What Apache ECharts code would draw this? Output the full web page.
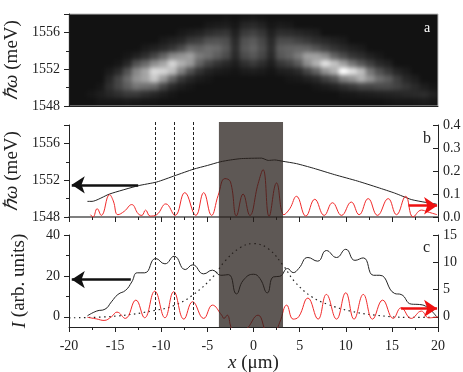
<!DOCTYPE html>
<html>
<head>
<meta charset="utf-8">
<script src="https://cdn.jsdelivr.net/npm/echarts@6/dist/echarts.min.js"></script>
<style>
  html, body { margin: 0; padding: 0; background: #fff; }
  #wrap { position: relative; width: 463px; height: 372px; overflow: hidden; }
  /* the map is blurry in the original, so it gets its own layer under the axes */
  #mapClip { position: absolute; left: 69px; top: 14px; width: 369px; height: 92px; overflow: hidden; background: #111; }
  #map { position: absolute; left: -69px; top: -14px; width: 463px; height: 372px; filter: blur(2px); }
  #main { position: absolute; left: 0; top: 0; width: 463px; height: 372px; }
</style>
</head>
<body>
<div id="wrap">
  <div id="mapClip"><div id="map"></div></div>
  <div id="main"></div>
</div>
<script>
// panel a: emission map, one list per column, top row first (brightness 0-255)
const mapColumns = [
  [18,18,18,18,18,18,18,18,18,18,18,18],
  [18,18,18,18,18,18,18,18,18,18,18,18],
  [18,18,18,18,18,18,18,18,18,18,22,18],
  [18,18,18,18,18,18,18,18,18,22,28,22],
  [18,18,18,18,18,18,18,25,35,42,35,22],
  [18,18,18,18,18,18,22,38,60,60,42,22],
  [18,18,18,18,18,22,35,70,90,80,50,24],
  [18,18,18,18,18,30,70,115,125,100,50,22],
  [18,18,18,18,25,42,90,140,140,95,42,20],
  [18,18,18,18,30,60,120,185,170,90,35,20],
  [18,18,18,25,38,85,140,180,130,60,28,18],
  [18,18,18,30,48,115,180,160,85,38,22,18],
  [18,18,24,35,65,125,150,110,50,28,18,18],
  [18,18,28,50,90,135,130,70,35,22,18,18],
  [18,18,32,55,85,105,85,45,26,18,18,18],
  [18,24,40,70,95,95,60,32,22,18,18,18],
  [18,26,45,72,90,80,45,26,18,18,18,18],
  [20,28,48,68,75,65,36,24,18,18,18,18],
  [18,22,30,38,42,38,28,20,18,18,18,18],
  [22,35,52,70,75,65,42,26,18,18,18,18],
  [24,38,58,78,85,75,50,28,18,18,18,18],
  [20,32,48,62,68,60,40,25,18,18,18,18],
  [18,22,30,38,42,38,28,20,18,18,18,18],
  [18,26,42,65,80,75,48,28,18,18,18,18],
  [18,24,40,65,85,85,58,30,22,18,18,18],
  [18,18,36,58,88,105,78,38,24,18,18,18],
  [18,18,32,50,85,135,120,60,30,18,18,18],
  [18,18,28,42,72,135,150,85,38,22,18,18],
  [18,18,18,36,58,120,190,125,55,26,18,18],
  [18,18,18,30,46,85,165,150,72,32,18,18],
  [18,18,18,26,38,65,135,225,110,42,22,18],
  [18,18,18,18,30,48,100,190,125,50,24,18],
  [18,18,18,18,26,40,75,160,150,60,26,18],
  [18,18,18,18,18,30,55,100,125,60,28,18],
  [18,18,18,18,18,24,38,70,95,65,30,18],
  [18,18,18,18,18,18,30,50,80,65,32,20],
  [18,18,18,18,18,18,18,34,55,58,34,22],
  [18,18,18,18,18,18,18,26,36,48,36,22],
  [18,18,18,18,18,18,18,18,28,38,38,24],
  [18,18,18,18,18,18,18,18,18,28,40,26],
  [18,18,18,18,18,18,18,18,18,22,32,24]
];

// panel b
const energyX = [-18,-17.5,-15.6,-12.5,-10.5,-8.5,-6.5,-5,-3.6,-2.5,-1.3,0.87,1.6,2.3,3.2,4.66,6.5,8.8,11.3,13.5,15.3,17.1,18.6,19.85];
const energyY = [1549.7,1549.7,1550.5,1551.4,1551.8,1552.5,1553.2,1553.6,1554,1554.2,1554.35,1554.4,1554.15,1554.2,1554.05,1553.8,1553.3,1552.6,1551.9,1551.2,1550.6,1549.9,1549.6,1549.4];
const ratioX = [-17.67,-17.4,-16.95,-16.5,-15.6,-15.2,-14.7,-14,-13.2,-12.5,-12.1,-11.7,-11.2,-10.5,-9.5,-8.5,-7.45,-6.25,-5.4,-4.55,-3.83,-3.1,-2.5,-1.85,-1.13,-0.4,0.5,1.04,1.69,2.5,3.3,3.93,4.66,5.67,6.64,7.66,8.56,9.54,10.6,11.45,12.43,13.44,14.6,15.5,16.5,17.3,18.2,18.9,19.9];
const ratioY = [0.01,0,0.036,0.007,0.097,0.07,0.01,0.025,0.054,0.014,0.007,0.03,0.004,0.01,0.057,0.007,0.106,0.007,0.106,0.007,0.094,0.167,0.153,0.005,0.1,0.007,0.145,0.206,0.003,0.148,0.01,0.036,0.09,0.004,0.077,0.007,0.062,0.007,0.065,0.01,0.08,0.007,0.08,0.01,0.09,0,0.03,0.022,0.01];

// panel c
const intensityX = [-18,-17,-16.1,-15.4,-14.7,-13.85,-13.2,-12.6,-11.8,-10.6,-9.6,-8.6,-7.4,-6.6,-5.4,-4.45,-3.55,-2.7,-1.85,-1.1,0,0.7,1.5,2.15,2.85,3.7,4.3,4.9,5.9,6.95,7.9,9,10,11,11.9,13,13.7,15.3,16,17.1,18,18.9,19.85];
const intensityY = [0.5,2.8,3.7,7.3,10.9,13,17,21.5,21.5,28.5,25.9,29.6,23.1,25.4,21,22.8,20.3,20.6,11.2,17.9,20.8,18.7,11.7,19.5,19.8,23.6,21.6,23.6,29,27.2,32.4,29,33,27.6,28.8,20.3,20.3,11.4,10.9,6.2,6,4.4,0];
const dottedX = [-20,-15,-10.5,-8.5,-6.5,-4.4,-3.1,-1.5,0,1.6,3.2,4.5,6.3,8.1,10.5,13.2,16.8,20];
const dottedY = [-0.5,0.3,3.25,5.7,10.9,19.5,27.2,33.7,35.8,33.3,25.2,17,9.8,6,2.8,0.8,-0.3,-0.3];
const diffX = [-18,-17,-16.2,-15.4,-14.8,-13.9,-12.75,-11.8,-10.7,-9.6,-8.65,-7.55,-6.6,-5.4,-4.45,-3.45,-3.2,-2.85,-2.4,-2,-0.9,0.5,1.6,2.4,2.85,3.6,4.3,4.9,5.9,7,7.9,9,10,10.9,11.9,12.9,14,15.15,16,17.1,18.2,19,20];
const diffY = [-0.1,-0.4,-0.67,0,0.86,-0.3,3.06,-0.18,4.7,-0.18,4.6,-0.43,2.76,-0.3,2.14,0.3,-0.3,0.3,-2.1,-3,-2.5,0.3,-3,-2.5,-1,2.14,-0.43,0,3.43,-0.43,4.1,-0.43,4.4,-0.43,4.1,-0.43,3.06,-0.3,1.65,-0.3,1.04,-0.2,0];

// shaded region and dashed guides (um)
const bandRange = [-3.75, 3.2];
const guideX = [-10.6, -8.6, -6.5];

const serif = '"Liberation Serif", "Times New Roman", serif';
const ink = '#222';

const zip = (xs, ys) => xs.map((x, i) => [x, ys[i]]);

const mapData = [];
mapColumns.forEach((col, i) => {
  col.forEach((v, r) => mapData.push([i, col.length - 1 - r, v]));
});

function arrow(color, x0, x1, y) {
  return {
    silent: true,
    symbol: ['none', 'arrow'],
    symbolSize: 13,
    label: { show: false },
    lineStyle: { color: color, width: 2.5, type: 'solid' },
    data: [[{ coord: [x0, y] }, { coord: [x1, y] }]]
  };
}

const leftAxis = (gridIndex, extra) => Object.assign({
  type: 'value',
  gridIndex: gridIndex,
  position: 'left',
  nameLocation: 'middle',
  axisLine: { show: true, onZero: false, lineStyle: { color: ink } },
  axisTick: { show: true, length: 5, lineStyle: { color: ink } },
  minorTick: { show: true, splitNumber: 2, length: 3, lineStyle: { color: ink } },
  axisLabel: { color: ink, fontFamily: serif, fontSize: 14, margin: 9 },
  splitLine: { show: false },
  minorSplitLine: { show: false }
}, extra);

const rightAxis = (gridIndex, extra) => leftAxis(gridIndex, Object.assign({
  position: 'right',
  axisTick: { show: true, inside: true, length: 5, lineStyle: { color: ink } },
  axisLabel: { color: ink, fontFamily: serif, fontSize: 14, margin: 5 }
}, extra));

const bottomAxis = (gridIndex, showLabel, name) => ({
  type: 'value',
  gridIndex: gridIndex,
  min: -20,
  max: 20,
  interval: 5,
  name: name,
  nameLocation: 'middle',
  nameGap: 26,
  nameTextStyle: {
    color: ink, fontFamily: serif, fontSize: 19,
    rich: { i: { fontStyle: 'italic', fontFamily: serif, fontSize: 19, color: ink } }
  },
  axisLine: { show: true, onZero: false, lineStyle: { color: gridIndex === 1 ? '#555' : ink, width: gridIndex === 1 ? 1.5 : 1 } },
  axisTick: { show: true, length: 5, lineStyle: { color: ink } },
  minorTick: { show: true, splitNumber: 2, length: 3, lineStyle: { color: ink } },
  axisLabel: { show: showLabel, color: ink, fontFamily: serif, fontSize: 14, margin: 12, formatter: v => String(v) },
  splitLine: { show: false },
  minorSplitLine: { show: false }
});

const nameStyle = {
  color: ink, fontFamily: serif, fontSize: 19,
  rich: {
    i: { fontStyle: 'italic', fontFamily: serif, fontSize: 19, color: ink }
  }
};

const energyLabel = { color: ink, fontFamily: serif, fontSize: 14, margin: 9, showMaxLabel: false, formatter: v => String(v) };

// map layer
const mapChart = echarts.init(document.getElementById('map'));
mapChart.setOption({
  animation: false,
  backgroundColor: '#111',
  grid: { left: 69, width: 369, top: 14, height: 92, outerBoundsMode: 'none' },
  xAxis: { type: 'category', data: mapColumns.map((c, i) => i), show: false },
  yAxis: { type: 'category', data: mapColumns[0].map((c, i) => i), show: false },
  visualMap: {
    show: false, type: 'continuous', min: 17, max: 215, dimension: 2,
    inRange: { color: ['#111111', '#ffffff'] }
  },
  series: [{ type: 'heatmap', data: mapData, progressive: 0, itemStyle: { borderWidth: 0 } }]
});

// axes and curves
const chart = echarts.init(document.getElementById('main'));
chart.setOption({
  animation: false,
  backgroundColor: 'transparent',
  textStyle: { fontFamily: serif },
  grid: [
    { left: 69, width: 369, top: 14, height: 92, outerBoundsMode: 'none', show: true, borderColor: '#bbb', borderWidth: 1, backgroundColor: 'transparent' },
    { left: 69, width: 369, top: 125, height: 92, outerBoundsMode: 'none' },
    { left: 69, width: 369, top: 235, height: 92, outerBoundsMode: 'none' },
    { left: 69, width: 369, top: 122, height: 205, outerBoundsMode: 'none' }
  ],
  xAxis: [
    {
      type: 'value', gridIndex: 0, min: -20, max: 20,
      axisLine: { show: true, onZero: false, lineStyle: { color: ink } }, axisTick: { show: false }, axisLabel: { show: false }, splitLine: { show: false }
    },
    bottomAxis(1, false, ''),
    bottomAxis(2, true, '{i|x} (μm)'),
    { type: 'value', gridIndex: 3, min: -20, max: 20, show: false }
  ],
  yAxis: [
    leftAxis(0, { min: 1548, max: 1558, interval: 4, name: '{i|ℏω} (meV)', nameGap: 45, nameTextStyle: nameStyle, axisLabel: energyLabel }),
    leftAxis(1, { min: 1548, max: 1558, interval: 4, name: '{i|ℏω} (meV)', nameGap: 40, nameTextStyle: nameStyle, axisLabel: energyLabel }),
    rightAxis(1, { min: 0, max: 0.4, interval: 0.1, minorTick: { show: false }, axisLabel: { color: ink, fontFamily: serif, fontSize: 14, margin: 5, formatter: v => v.toFixed(1) } }),
    leftAxis(2, {
      min: -5, max: 40, name: '{i|I} (arb. units)', nameGap: 40, nameTextStyle: nameStyle,
      minorTick: { show: false },
      axisTick: { show: true, length: 5, customValues: [0, 20, 40], lineStyle: { color: ink } },
      axisLabel: { color: ink, fontFamily: serif, fontSize: 14, margin: 9, customValues: [0, 20, 40] }
    }),
    rightAxis(2, {
      min: -1.875, max: 15,
      minorTick: { show: false },
      axisTick: { show: true, inside: true, length: 5, customValues: [0, 5, 10, 15], lineStyle: { color: ink } },
      axisLabel: { color: ink, fontFamily: serif, fontSize: 14, margin: 5, customValues: [0, 5, 10, 15] }
    }),
    leftAxis(2, {
      min: -5, max: 40,
      axisLine: { show: false, onZero: false },
      minorTick: { show: false },
      axisTick: { show: true, length: 3, customValues: [10, 30], lineStyle: { color: ink } },
      axisLabel: { show: false }
    }),
    { type: 'value', gridIndex: 3, min: 0, max: 1, show: false }
  ],
  series: [
    {
      type: 'line', xAxisIndex: 1, yAxisIndex: 1, data: zip(energyX, energyY), showSymbol: false,
      smooth: 0.2, lineStyle: { color: '#222', width: 1 }, markLine: arrow('#111', -12.5, -19.7, 1551.5)
    },
    {
      type: 'line', xAxisIndex: 1, yAxisIndex: 2, data: zip(ratioX, ratioY), showSymbol: false,
      smooth: 0.45, lineStyle: { color: '#f02a2a', width: 1 }, markLine: arrow('#ee1111', 16.8, 19.9, 0.049)
    },
    {
      type: 'line', xAxisIndex: 2, yAxisIndex: 3, data: zip(intensityX, intensityY), showSymbol: false,
      smooth: 0.5, lineStyle: { color: '#222', width: 1 }, markLine: arrow('#111', -13.3, -19.7, 18.2)
    },
    {
      type: 'line', xAxisIndex: 2, yAxisIndex: 3, data: zip(dottedX, dottedY), showSymbol: false,
      smooth: 0.4, lineStyle: { color: '#222', width: 1.2, type: [1.5, 3.5] }
    },
    {
      type: 'line', xAxisIndex: 2, yAxisIndex: 4, data: zip(diffX, diffY), showSymbol: false,
      smooth: 0.45, lineStyle: { color: '#f02a2a', width: 1 }, markLine: arrow('#ee1111', 16, 19.9, 1.53)
    },
    {
      type: 'line', xAxisIndex: 3, yAxisIndex: 6, z: 6,
      data: zip(bandRange, [0, 0]), showSymbol: false, lineStyle: { opacity: 0 },
      markArea: {
        silent: true,
        z: 6,
        itemStyle: { color: 'rgba(40,32,28,0.75)' },
        data: [[{ coord: [bandRange[0], 0] }, { coord: [bandRange[1], 1] }]]
      },
      markLine: {
        silent: true,
        symbol: 'none',
        label: { show: false },
        lineStyle: { color: '#222', width: 1, type: [3, 2] },
        data: guideX.map(x => [{ coord: [x, 1] }, { coord: [x, 0.03] }])
      }
    }
  ],
  graphic: [
    { type: 'text', left: 424, top: 21, z: 20, style: { text: 'a', fill: '#fff', font: '14px ' + serif } },
    { type: 'text', left: 423, top: 131, z: 20, style: { text: 'b', fill: ink, font: '16px ' + serif } },
    { type: 'text', left: 423, top: 240, z: 20, style: { text: 'c', fill: ink, font: '16px ' + serif } }
  ]
});
</script>
</body>
</html>
